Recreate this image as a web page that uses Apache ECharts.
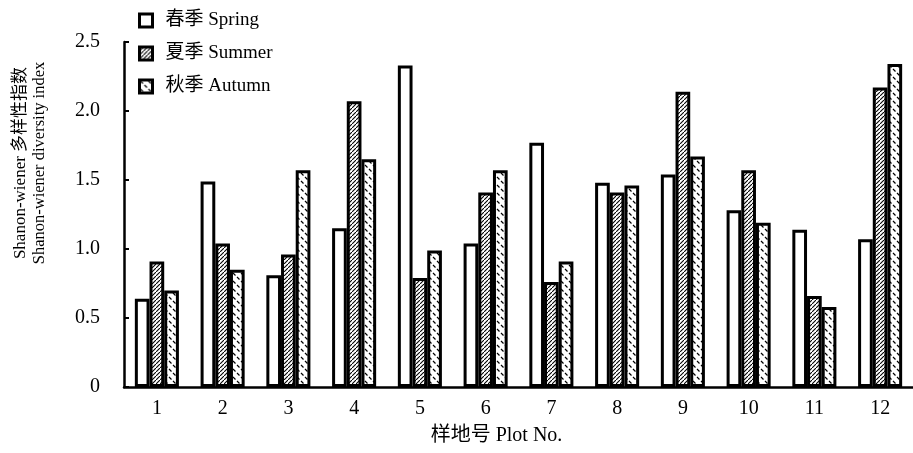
<!DOCTYPE html>
<html>
<head>
<meta charset="utf-8">
<script src="https://cdn.jsdelivr.net/npm/echarts@6/dist/echarts.min.js"></script>
<style>
  html, body { margin: 0; padding: 0; background: #fff; }
  #main { width: 913px; height: 453px; }
</style>
</head>
<body>
<div id="main"></div>
<script>
// 样地号
var plots = ['1', '2', '3', '4', '5', '6', '7', '8', '9', '10', '11', '12'];
// Shannon-wiener 多样性指数
var spring = [0.64, 1.49, 0.81, 1.15, 2.33, 1.04, 1.77, 1.48, 1.54, 1.28, 1.14, 1.07];
var summer = [0.91, 1.04, 0.96, 2.07, 0.79, 1.41, 0.76, 1.41, 2.14, 1.57, 0.66, 2.17];
var autumn = [0.70, 0.85, 1.57, 1.65, 0.99, 1.57, 0.91, 1.46, 1.67, 1.19, 0.58, 2.34];
var seriesNames = ['春季 Spring', '夏季 Summer', '秋季 Autumn'];

var FONT = "'Liberation Serif', 'Noto Sans CJK SC', serif";

// 斜线填充
function hatchSummer() {
  var c = document.createElement('canvas');
  c.width = 4; c.height = 4;
  var ctx = c.getContext('2d');
  ctx.fillStyle = '#fff';
  ctx.fillRect(0, 0, 4, 4);
  ctx.strokeStyle = '#000';
  ctx.lineWidth = 1.1;
  ctx.beginPath();
  ctx.moveTo(-1, 5);
  ctx.lineTo(5, -1);
  ctx.stroke();
  return c;
}

// 短虚线填充
function hatchAutumn() {
  var c = document.createElement('canvas');
  c.width = 8; c.height = 8;
  var ctx = c.getContext('2d');
  ctx.fillStyle = '#fff';
  ctx.fillRect(0, 0, 8, 8);
  ctx.strokeStyle = '#000';
  ctx.lineWidth = 1.2;
  ctx.beginPath();
  ctx.moveTo(1, 1);
  ctx.lineTo(3.5, 3.5);
  ctx.moveTo(5, 5);
  ctx.lineTo(7.5, 7.5);
  ctx.stroke();
  return c;
}

var fills = ['#fff', { image: hatchSummer(), repeat: 'repeat' }, { image: hatchAutumn(), repeat: 'repeat' }];
var values = [spring, summer, autumn];

var myChart = echarts.init(document.getElementById('main'));

myChart.setOption({
  animation: false,
  backgroundColor: '#fff',
  textStyle: { fontFamily: FONT, color: '#000' },
  grid: { left: 124, top: 42, width: 790, height: 345 },
  legend: {
    orient: 'vertical',
    left: 133,
    top: 6,
    itemWidth: 13,
    itemHeight: 13,
    itemGap: 14,
    icon: 'rect',
    data: seriesNames,
    itemStyle: { borderColor: '#000', borderWidth: 3 },
    textStyle: { fontFamily: FONT, fontSize: 19, color: '#000', padding: [0, 0, 0, 8] }
  },
  xAxis: {
    type: 'category',
    data: plots,
    boundaryGap: true,
    name: '样地号 Plot No.',
    nameLocation: 'middle',
    nameGap: 39,
    nameTextStyle: { fontFamily: FONT, fontSize: 20, color: '#000', padding: [0, 44, 0, 0] },
    axisLine: { lineStyle: { color: '#000', width: 2.5 } },
    axisTick: { inside: true, length: 6, lineStyle: { color: '#000', width: 2 } },
    axisLabel: { fontFamily: FONT, fontSize: 20, color: '#000', margin: 12 }
  },
  yAxis: {
    type: 'value',
    min: 0,
    max: 2.5,
    interval: 0.5,
    axisLine: { show: true, lineStyle: { color: '#000', width: 2.5 } },
    axisTick: { show: true, inside: true, length: 5, lineStyle: { color: '#000', width: 2 } },
    splitLine: { show: false },
    axisLabel: {
      fontFamily: FONT,
      fontSize: 20,
      color: '#000',
      margin: 24,
      formatter: function (v) { return v === 0 ? '0' : v.toFixed(1); }
    }
  },
  graphic: [
    {
      type: 'text',
      x: 21,
      y: 163,
      rotation: Math.PI / 2,
      style: {
        text: 'Shanon-wiener 多样性指数',
        font: "17px 'Liberation Serif', 'Noto Sans CJK SC', serif",
        fill: '#000',
        textAlign: 'center',
        textVerticalAlign: 'middle'
      }
    },
    {
      type: 'text',
      x: 40,
      y: 163,
      rotation: Math.PI / 2,
      style: {
        text: 'Shanon-wiener diversity index',
        font: "16.5px 'Liberation Serif', 'Noto Sans CJK SC', serif",
        fill: '#000',
        textAlign: 'center',
        textVerticalAlign: 'middle'
      }
    }
  ],
  series: seriesNames.map(function (name, i) {
    return {
      name: name,
      type: 'bar',
      data: values[i],
      barGap: '0%',
      barCategoryGap: '33%',
      itemStyle: { color: fills[i], borderColor: '#000', borderWidth: 3 }
    };
  })
});
</script>
</body>
</html>
